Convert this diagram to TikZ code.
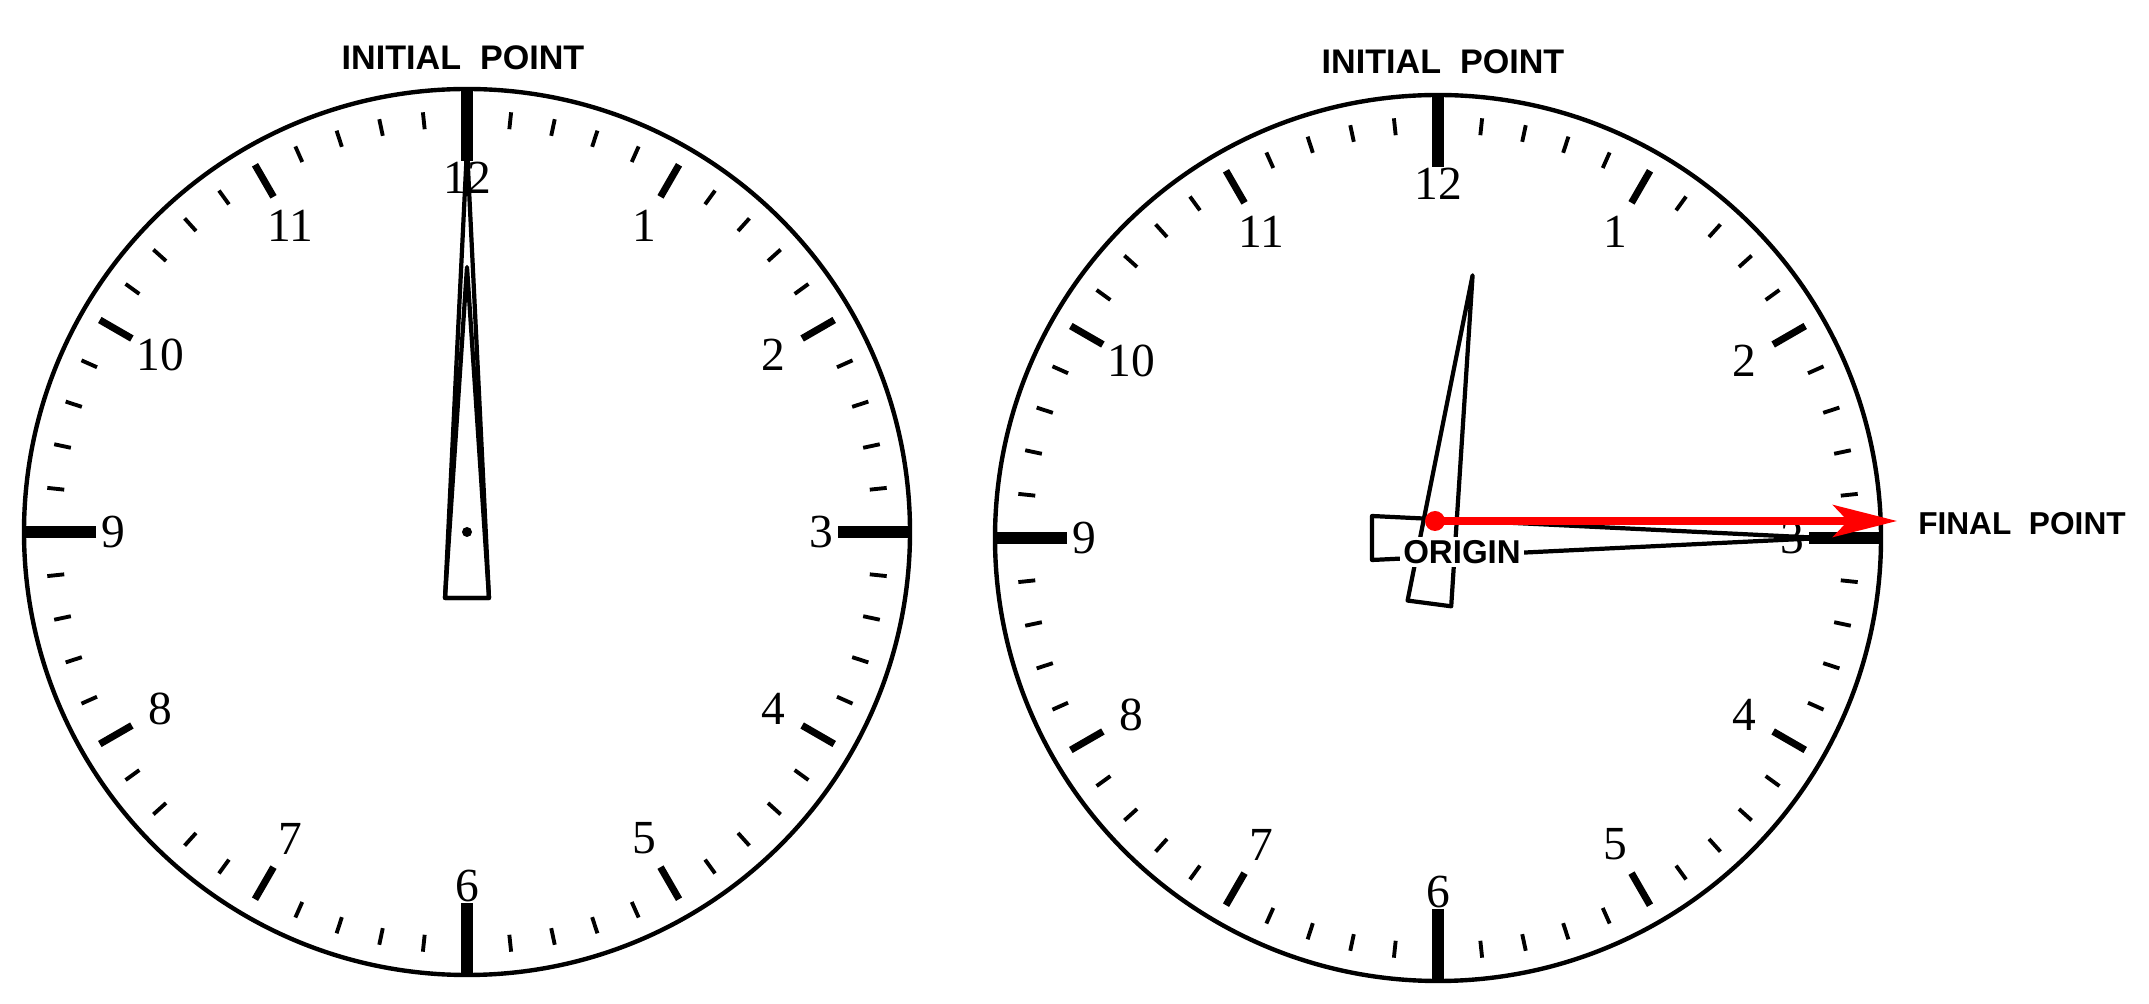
\documentclass[tikz,border=0pt]{standalone}
\usepackage{fontspec}
\setmainfont{Liberation Serif}
\setsansfont{Liberation Sans}
\usetikzlibrary{arrows.meta}
\tikzset{
  clockrim/.style={line width=1.25pt},
  minutetick/.style={line width=1.1pt},
  hourtick/.style={line width=2pt},
  quartertick/.style={line width=3.4pt},
  clocknum/.style={font=\fontsize{13.5}{15}\selectfont, inner sep=0pt},
  clockhand/.style={line width=1.2pt, line join=round},
  pointlabel/.style={font=\fontsize{9.4}{11}\selectfont\sffamily\bfseries, inner sep=1pt},
  vector/.style={red, line width=2pt, -{Stealth[length=6.4mm, width=3.2mm, inset=1.5mm]}}
}
\begin{document}
\begin{tikzpicture}[x=0.01cm, y=-0.01cm]
% one unit is one pixel of the 2149x1004 frame, y grows downwards
\useasboundingbox (0,0) rectangle (2149,1004);
% Clock faces: rim, ticks and numerals
\foreach \cx/\cy/\nm in {467/532/left, 1438/538/right}{
  \begin{scope}[shift={(\cx,\cy)}]
    \draw[clockrim] (0,0) circle (443);
    \foreach \m in {0,...,59}
      \draw[minutetick] (\m*6:405) -- (\m*6:422);
    \foreach \h in {30,60,120,150,210,240,300,330}
      \draw[hourtick] (\h:387) -- (\h:424);
    \foreach \h in {0,90,180,270}
      \draw[quartertick] (\h:371) -- (\h:443);
    \foreach \h in {1,...,12}
      \node[clocknum] (num-\nm-\h) at (\h*30-90:354) {\h};
  \end{scope}
}
% Left clock: both hands at twelve
\begin{scope}[shift={(467,532)}]
  \draw[clockhand] (-22,66) -- (0,-384) -- (22,66) -- cycle;
  \draw[clockhand] (-22,66) -- (0,-265) -- (22,66) -- cycle;
  \fill (0,0) circle (5);
\end{scope}
% Right clock: minute hand at three, hour hand just past twelve
\begin{scope}[shift={(1438,538)}]
  \draw[clockhand, rotate=-90] (-22,66) -- (0,-384) -- (22,66) -- cycle;
  \draw[clockhand, rotate=-7.5] (-22,66) -- (0,-265) -- (22,66) -- cycle;
\end{scope}
% Labels
\node[pointlabel, font=\fontsize{9.7}{11}\selectfont\sffamily\bfseries] (initial-left) at (463,58) {INITIAL\ \ POINT};
\node[pointlabel, font=\fontsize{9.7}{11}\selectfont\sffamily\bfseries] (initial-right) at (1443,62) {INITIAL\ \ POINT};
\node[pointlabel, fill=white] (origin-label) at (1462,552) {ORIGIN};
\node[pointlabel, anchor=west, font=\fontsize{9}{11}\selectfont\sffamily\bfseries] (final-label) at (1914,524) {FINAL\ \ POINT};
% Red vector from origin to final point
\coordinate (origin) at (1435,521);
\coordinate (final) at (1897,521);
\draw[vector] (origin) -- (final);
\fill[red] (origin) circle (10);
\end{tikzpicture}
\end{document}
